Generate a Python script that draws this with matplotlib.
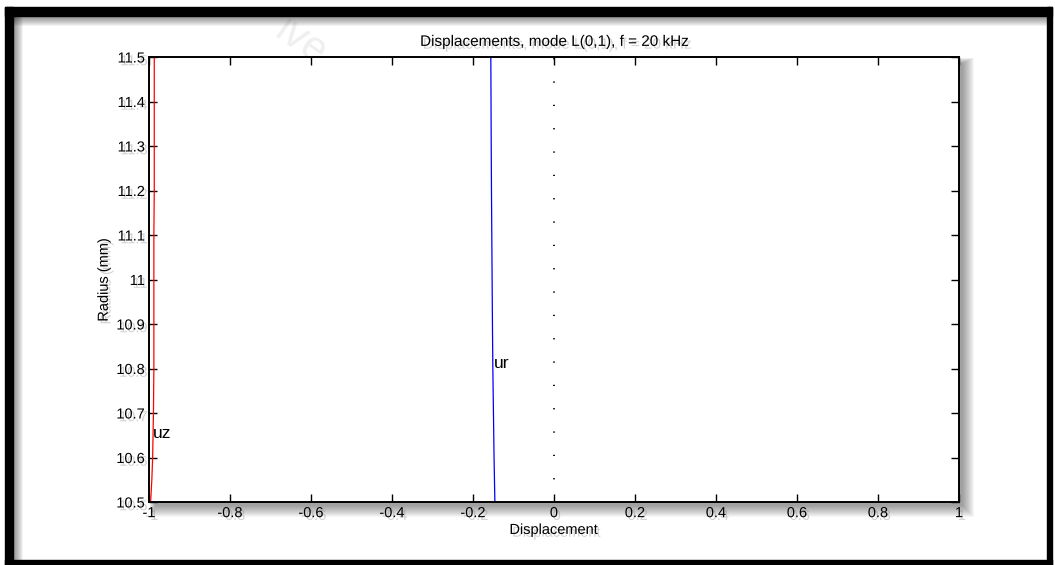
import matplotlib
matplotlib.use("Agg")
import matplotlib.pyplot as plt
import matplotlib.patheffects as pe
from matplotlib.patches import Rectangle

# radial positions (mm) and normalised displacement components
radius = [10.5, 10.55, 10.6, 10.7, 10.8, 10.9, 11.0, 11.1, 11.2, 11.3, 11.4, 11.5]
uz = [-0.996, -0.993, -0.991, -0.989, -0.988, -0.988, -0.988, -0.988, -0.987, -0.987, -0.987, -0.987]
ur = [-0.146, -0.147, -0.148, -0.1495, -0.151, -0.152, -0.1528, -0.1536, -0.1544, -0.155, -0.1555, -0.156]

xticks = [-1, -0.8, -0.6, -0.4, -0.2, 0, 0.2, 0.4, 0.6, 0.8, 1]
xticklabels = ["-1", "-0.8", "-0.6", "-0.4", "-0.2", "0", "0.2", "0.4", "0.6", "0.8", "1"]
yticks = [10.5, 10.6, 10.7, 10.8, 10.9, 11.0, 11.1, 11.2, 11.3, 11.4, 11.5]
yticklabels = ["10.5", "10.6", "10.7", "10.8", "10.9", "11", "11.1", "11.2", "11.3", "11.4", "11.5"]

plt.rcParams['font.family'] = ['Liberation Sans', 'DejaVu Sans']
plt.rcParams['lines.scale_dashes'] = False

W, H = 1055, 565
fig = plt.figure(figsize=(W / 100, H / 100), dpi=100)

def px(x0, y0, x1, y1):
    # rectangle given in pixel coords (origin top-left) -> figure fraction
    return (x0 / W, 1 - y1 / H), (x1 - x0) / W, (y1 - y0) / H

# frame around the figure
for (x0, y0, x1, y1) in [(5, 7, 1052, 16), (5, 7, 13, 565), (5, 560, 1052, 565), (1047, 7, 1052, 565)]:
    xy, w, h = px(x0, y0, x1, y1)
    fig.add_artist(Rectangle(xy, w, h, transform=fig.transFigure, color='black', zorder=5))
# soft inner shadow along the frame
for i in range(10):
    a = 0.05
    xy, w, h = px(13, 16, 13 + i + 1, 560)
    fig.add_artist(Rectangle(xy, w, h, transform=fig.transFigure, color='black', alpha=a, lw=0, zorder=1))
    xy, w, h = px(13, 16, 1047, 16 + i + 1)
    fig.add_artist(Rectangle(xy, w, h, transform=fig.transFigure, color='black', alpha=a, lw=0, zorder=1))

# faint watermark
fig.text(0.285, 0.925, "ive", fontsize=30, color='#efefef', rotation=-35,
         ha='center', va='center', zorder=0)

ax = fig.add_axes([149 / W, 1 - 502 / H, 810 / W, 445 / H])
ax.set_zorder(2)

# drop shadow behind the axes box, falling to the lower right
for i in range(12):
    xy, w, h = px(149 + 6 - i / 2, 57 + 6 - i / 2, 959 + 4 + i, 502 + 4 + i)
    fig.add_artist(Rectangle(xy, w, h, transform=fig.transFigure, color='black',
                             alpha=0.035, lw=0, zorder=1))

ax.plot(uz, radius, color='red', lw=0.9)
ax.plot(ur, radius, color='blue', lw=0.9)
ax.plot([0, 0], [10.5, 11.5], color='black', lw=1.3, linestyle=(0.5, (0.9, 15.9)))

shadow = [pe.SimplePatchShadow(offset=(2, -2), shadow_rgbFace='gray', alpha=0.35), pe.Normal()]

ax.text(-0.99, 10.655, "uz", fontsize=12.5, va='center', ha='left')
ax.text(-0.148, 10.812, "ur", fontsize=12.5, va='center', ha='left')

ax.set_xlim(-1, 1)
ax.set_ylim(10.5, 11.5)
ax.set_xticks(xticks)
ax.set_xticklabels(xticklabels)
ax.set_yticks(yticks)
ax.set_yticklabels(yticklabels)
ax.tick_params(direction='in', length=6, width=1, top=True, right=True,
               labelsize=10.5, pad=3)
for lbl in ax.get_xticklabels() + ax.get_yticklabels():
    lbl.set_path_effects(shadow)
for sp in ax.spines.values():
    sp.set_linewidth(1.4)

ax.set_title("Displacements, mode L(0,1), f = 20 kHz", fontsize=11, pad=8,
             path_effects=shadow)
ax.set_xlabel("Displacement", fontsize=10.5, labelpad=2, path_effects=shadow)
ax.set_ylabel("Radius (mm)", fontsize=10.5, labelpad=4, path_effects=shadow)

fig.savefig("out.png", dpi=100)
